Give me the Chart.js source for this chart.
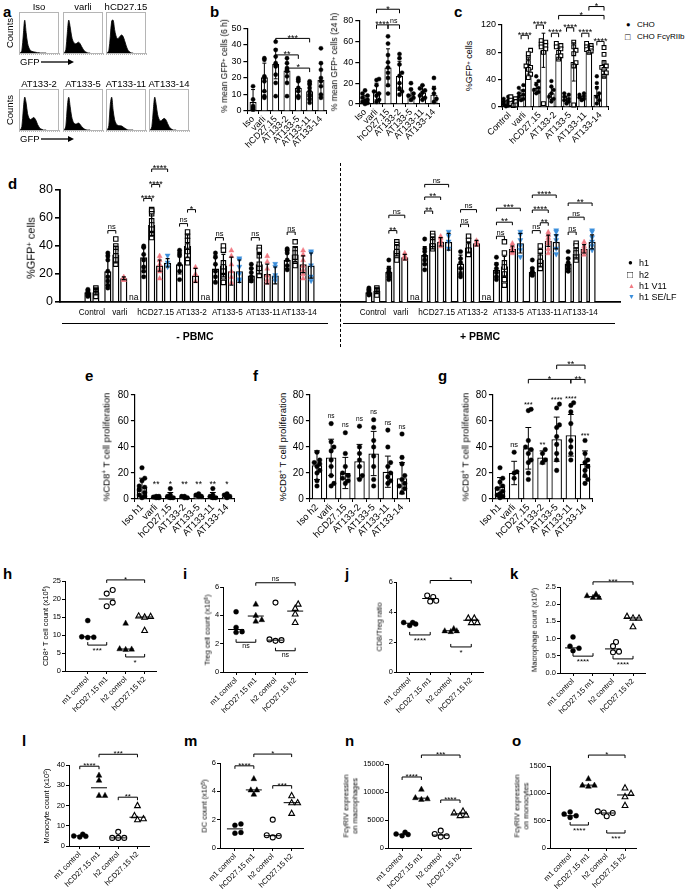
<!DOCTYPE html>
<html><head><meta charset="utf-8"><title>Figure</title>
<script src="https://cdn.jsdelivr.net/npm/chart.js@4.4.1/dist/chart.umd.min.js"></script>
<style>
html,body{margin:0;padding:0;background:#fff;}
#fig{position:relative;width:685px;height:894px;overflow:hidden;font-family:"Liberation Sans",Arial,sans-serif;color:#000;background:#fff;-webkit-font-smoothing:antialiased;}
.t{position:absolute;white-space:nowrap;line-height:1;-webkit-font-smoothing:antialiased;}
.yt{position:absolute;white-space:nowrap;line-height:1.15;transform:translate(-50%,-50%) rotate(-90deg);text-align:center;font-weight:normal;-webkit-font-smoothing:antialiased;}
sup{font-size:68%;position:relative;top:-0.4em;line-height:0;vertical-align:baseline;}
</style></head><body><div id="fig"></div>
<script>
// ================= DATA =================
// a: GFP histograms (relative counts per bin)
const histTitles = ['Iso','varli','hCD27.15','AT133-2','AT133-5','AT133-11','AT133-14'];
const histIso   = [0,1,8,55,100,62,30,15,8,5,4,3,2,1,1,0,0,0,0,0];
const histVarli = [0,1,10,60,100,80,52,36,30,28,31,33,28,20,12,6,3,1,0,0];
const histHCD   = [0,1,8,50,98,100,72,52,44,46,52,55,50,38,24,12,5,2,0,0];
const histAT2   = [0,1,10,62,100,82,50,36,32,34,38,36,28,17,9,4,2,0,0,0];
const histAT5   = [0,1,12,70,100,72,42,26,20,18,20,21,17,11,6,3,1,0,0,0];
const histAT11  = [0,1,14,78,100,60,32,20,15,13,13,12,9,6,3,1,0,0,0,0];
const histAT14  = [0,1,10,60,100,78,48,33,28,30,34,35,30,20,11,5,2,0,0,0];

// b: % mean GFP+ cells
const bCats = ['Iso','varli','hCD27.15','AT133-2','AT133-5','AT133-11','AT133-14'];
const b6Mean = [5.5,20.5,28.5,24.5,14,12,19];
const b6SD   = [7.5,8.5,9,7.5,5,4.5,10];
const b6Pts  = [[15,7,3,2,1],[32,31,21,20,18,12,9,8],[42,37,33,29,28,27,22,17,9],[32,29,26,25,24,21,17,9],[20,19,18,14,12,9,8],[18,17,16,14,12,10,9,7,5],[38,29,25,20,18,15,10,8]];
const b6Sig  = [[2,5,44,'***'],[2,4,34,'**'],[3,5,26,'*']];
const b24Mean = [4,12,35,27,9,11,9];
const b24SD   = [4,8,18,14,6,7,8];
const b24Pts  = [[13,10,8,6,4,3,2,1,0],[24,23,18,12,10,8,4,2],[65,58,47,40,35,30,25,18,10],[48,44,38,30,27,20,15,12,9],[20,14,10,8,6,4],[18,15,13,11,8,6,4],[25,15,10,5,2]];
const b24Sig  = [[1,2,76,'****'],[2,3,76,'ns'],[1,3,91,'*']];

// c: CHO vs CHO FcgRIIb
const cCats = ['Control','varli','hCD27.15','AT133-2','AT133-5','AT133-11','AT133-14'];
const cCHO    = [5,18,28,20,11,13,18];
const cCHOsd  = [4,7,8,9,5,3,12];
const cFc     = [5,60,83,78,66,84,56];
const cFcSD   = [4,12,25,8,28,5,12];
const cCHOpts = [[15,12,10,8,6,4,2,1],[32,28,24,20,18,15,12,10],[45,38,33,28,25,22,20],[38,30,25,20,15,12,8],[20,18,15,12,10,8,5],[20,18,16,14,12,10],[45,35,28,20,15,10,5]];
const cFcPts  = [[15,12,10,8,5,3,2],[83,78,72,65,60,58,55,48,43],[97,95,92,90,88,85,80,5],[93,90,88,85,80,75,70],[95,88,83,78,65,60,3],[93,90,88,86,84,82,80],[87,77,65,60,58,55,50,45]];
const cSig = [[1,0,1,1,105,'****'],[2,0,2,1,120,'****'],[3,0,3,1,108,'****'],[4,0,4,1,116,'****'],[5,0,5,1,108,'****'],[6,0,6,1,96,'****'],[3,1,6,1,134,'*'],[5,1,6,1,147,'*']];

// d: %GFP+ cells, series h1, h2, h1 V11, h1 SE/LF  (null = not tested, 'na' = not available)
const dCats = ['Control','varli','hCD27.15','AT133-2','AT133-5','AT133-11','AT133-14'];
const dSeries = ['h1','h2','h1 V11','h1 SE/LF'];
// - PBMC
const dL_h1  = [7,22,32,27,24,19,30];
const dL_h2  = [7,34,55,40,26,27,34];
const dL_v11 = [null,17,26,19,22,20,27];
const dL_se  = [null,'na',28,'na',22,19,26];
const dL_h1sd  = [2,10,7,7,9,5,6];
const dL_h2sd  = [2,6,8,8,8,7,5];
const dL_v11sd = [null,1,4,5,10,7,6];
const dL_sesd  = [null,null,3,null,8,6,9];
const dL_h1pts  = [[9,8,7,6,5,5,4],[35,33,30,22,18,15,12,10],[40,39,34,30,25,22,18],[37,35,33,27,22,16],[35,32,27,22,18,14],[27,24,21,18,16,15],[38,37,35,30,26,23]];
const dL_h2pts  = [[10,9,8,7,6,5,4],[45,40,38,36,33,30,27],[66,65,63,58,55,52,48,46],[50,47,44,40,36,30,28],[40,37,28,25,22,18,14],[39,37,33,27,24,19],[43,38,35,32,27,26]];
const dL_v11pts = [null,[18,17,16,16],[33,30,27,24,22,17],[25,20,15],[37,33,27,22,18,14],[33,29,24,19,16,14],[37,34,30,26,23,20,17]];
const dL_septs  = [null,null,[33,28,25],null,[31,30,25,20,16,15],[27,25,19,17,15],[36,35,26,18,15]];
const dL_sig = [[1,0,1,51,'ns'],[2,0,1,74,'****'],[2,1,2,84,'****'],[2,1,3,95,'****'],[3,0,1,56,'ns'],[3,1,2,66,'*'],[4,0,1,46,'ns'],[5,0,1,46,'ns'],[6,0,1,50,'ns']];
// + PBMC
const dR_h1  = [7,21.5,33.5,27.5,23,21.5,27.5];
const dR_h2  = [8,37,42,39,25.5,30,34.7];
const dR_v11 = [null,32,43,42,38,43.7,38];
const dR_se  = [null,'na',43,'na',42,43,43];
const dR_h1sd  = [2,4,6,6,5,3,4];
const dR_h2sd  = [2,4,4,4,7,5,4];
const dR_v11sd = [null,2,3,2,2,4,3];
const dR_sesd  = [null,null,6,null,7,5,5];
const dR_h1pts  = [[10,9,8,7,6,5],[30,24,22,20,18,16],[45,38,36,33,30,27,23],[36,31,28,24,20,18],[32,27,24,21,18,16],[30,24,22,21,20,19],[36,31,28,26,24,22]];
const dR_h2pts  = [[10,9,8,7,6,5],[43,41,39,36,33,30],[49,47,45,43,40,38],[47,44,40,37,34],[43,35,28,25,20,16,12],[40,36,32,29,26,24],[42,40,37,35,32,30]];
const dR_v11pts = [null,[35,33,32,31],[47,46,44,42,40],[44,42,41],[42,40,38,37,36,35],[50,48,46,44,42,38,35],[43,40,38,37,36,34]];
const dR_septs  = [null,null,[50,47,43,38],null,[50,48,44,40,37,32],[51,50,47,44,38,34],[51,50,46,43,40,37]];
const dR_sig = [[1,0,1,51,'**'],[1,0,2,62,'ns'],[2,0,1,65,'**'],[2,0,2,75,'**'],[2,0,3,84,'ns'],[3,0,1,55.6,'ns'],[3,0,2,66,'ns'],[4,0,1,47,'ns'],[4,0,2,57,'**'],[4,0,3,67,'***'],[5,0,1,51,'ns'],[5,1,2,56.6,'**'],[5,0,2,65.7,'****'],[5,0,3,76.4,'****'],[6,0,1,50,'ns'],[6,0,2,60.6,'ns'],[6,0,3,70.7,'**']];

// e, f, g: %CD8+ T cell proliferation
const eCats = ['Iso h1','varli','hCD27.15','AT133-2','AT133-5','AT133-11','AT133-14'];
const eMean = [9,1.5,2.5,1.5,2.5,2.5,2];
const eSD   = [7,0.5,2.5,0.5,1,2.5,1];
const ePts  = [[24,16,14,10,9,7,5,3,2,1],[2,1.5,1,1,2],[8,3,2,1,1],[2,2,1,1],[4,3,2,2],[8,3,2,1,1],[4,3,2,1]];
const eStars = ['','**','*','**','**','**','*'];
const eStarV = [null,10.5,10.5,10.5,10.5,10.5,10.5];
const fCats = ['Iso h2','varli','hCD27.15','AT133-2','AT133-5','AT133-11','AT133-14'];
const fMean = [26,32,20,29,35,21,16];
const fSD   = [11,14,12,13,17,12,12];
const fPts  = [[36,30,28,27,25,22,20,14,10],[58,44,40,37,30,25,18,12,10],[51,35,25,20,18,16,14,12],[56,40,35,30,25,18,15],[61,55,45,40,33,25,15,10],[53,40,28,25,20,17,14,12],[50,32,27,18,15,12,10,8,5]];
const fStars = ['','ns','ns','ns','ns','ns','ns'];
const fStarV = [null,61,54,59,64,56,53];
const gCats = ['Iso h1','varli','hCD27.15','AT133-2','AT133-5','AT133-11','AT133-14'];
const gMean = [9.5,20,39,32,46,49,27];
const gSD   = [7,9,16,5,17,16,10];
const gPts  = [[24,16,13,10,8,6,4,3,2,1],[36,21,20,16],[69,68,45,40,38,35,30,28,20,15],[38,35,30,28],[73,70,57,55,48,42,35,30,22],[74,72,67,58,45,40,35,30],[45,35,30,28,25,22,18,15,12]];
const gStars = ['','ns','***','**','****','****','***'];
const gStarV = [null,39,72,41,76,77,48];
const gSig = [[2,5,92,'*'],[5,6,92,'**'],[4,6,103,'**']];

// h - o: in vivo dot plots
const dotCats = ['m1 control','hCD27.15 m1','h2 control','hCD27.15 h2'];
const hMed = [9.5,20,6.1,15];
const hPts = [[14,9.5,9.3,9.4],[22.5,21.5,18,19],[13.3,6,6.2,6.1],[15,15.3,15.2,11.3]];
const hSig = [[1,3,25.3,'*','d'],[0,1,7.2,'***','u'],[2,3,3.9,'*','u']];
const iMed = [3.0,3.95,2.25,4.3];
const iPts = [[4.25,2.8,2.85,3.15],[4.8,4.0,3.6,3.7],[4.9,2.3,2.2,2.25],[4.8,4.5,4.1,3.5]];
const iSig = [[1,3,6.3,'ns','d'],[0,1,2.1,'ns','u'],[2,3,1.5,'ns','u']];
const jMed = [3.25,4.9,2.75,3.45];
const jPts = [[3.1,3.3,3.2,3.3],[5.1,5.0,4.7,4.75],[2.9,2.75,2.7,2.75],[3.6,3.3,3.3,3.6]];
const jSig = [[1,3,6.1,'*','d'],[0,1,2.47,'****','u'],[2,3,1.67,'*','u']];
const kMed = [0.73,2.22,0.7,1.6];
const kPts = [[1.05,0.78,0.72,0.65],[2.3,2.2,2.2,2.25],[0.9,0.78,0.62,0.6],[1.65,1.6,1.6,1.35]];
const kSig = [[1,3,2.65,'***','d'],[0,1,0.49,'****','u'],[2,3,0.41,'****','u']];
const lMed = [5,28.75,4,14.2];
const lPts = [[4.5,5.8,5,4.8],[35,32.5,25,25],[7,4,4,4],[20,15,13.5,13]];
const lSig = [[0,1,39.4,'****','d'],[1,3,45.3,'***','d'],[2,3,24.1,'**','d']];
const mMed = [1.35,4.1,0.87,3.2];
const mPts = [[1.7,1.6,1.1,1.05],[4.9,4.1,4.1,3.8],[2.0,0.9,0.85,0.75],[3.7,3.2,3.2,2.45]];
const mSig = [[0,1,5.8,'****','d'],[1,3,6.63,'*','d'],[2,3,4.4,'***','d']];
const nMed = [2450,8900,2300,6100];
const nPts = [[2800,2500,2400,2200],[10500,9000,8700,8800],[3100,2500,2100,2000],[6600,6300,5900,5800]];
const nSig = [[0,1,12680,'****','d'],[1,3,16600,'***','d'],[2,3,8570,'****','d']];
const oMed = [590,1150,640,970];
const oPts = [[660,620,590,560],[1270,1150,1130,1150],[670,650,640,580],[1100,1000,940,780]];
const oSig = [[1,3,1700,'*','d'],[0,1,420,'****','u'],[2,3,274,'***','u']];

// ================= SETUP =================
const FF = '"Liberation Sans", Arial, sans-serif';
Chart.defaults.font.family = FF;
Chart.defaults.color = '#000';
Chart.defaults.animation = false;
Chart.defaults.responsive = false;
Chart.defaults.maintainAspectRatio = false;
Chart.defaults.plugins.legend.display = false;
Chart.defaults.plugins.tooltip.enabled = false;
Chart.defaults.events = [];
const fig = document.getElementById('fig');
const PINK = '#F17A83', BLUE = '#3B8EDB';

function mk(box, plot, cfg, noY) {
  const c = document.createElement('canvas');
  c.width = box.w; c.height = box.h;
  c.style.cssText = `position:absolute;left:${box.x}px;top:${box.y}px;width:${box.w}px;height:${box.h}px;`;
  fig.appendChild(c);
  const yW = plot.x0 - box.x, xH = box.y + box.h - plot.y1;
  cfg.options.devicePixelRatio = 1;
  cfg.options.layout = { padding: { left: noY ? yW : 0, top: plot.y0 - box.y, right: box.x + box.w - plot.x1, bottom: 0 } };
  cfg.options.scales.x.afterFit = s => { s.height = xH; };
  if (!noY) cfg.options.scales.y.afterFit = s => { s.width = yW; };
  return new Chart(c, cfg);
}
function txt(s, x, y, size, o) {
  o = o || {};
  const d = document.createElement('div'); d.className = 't'; d.innerHTML = s;
  d.style.left = x + 'px'; d.style.top = y + 'px'; d.style.fontSize = size + 'px';
  if (o.bold) d.style.fontWeight = 'bold';
  if (o.center) d.style.transform = 'translateX(-50%)';
  if (o.color) d.style.color = o.color;
  fig.appendChild(d); return d;
}
function ytitle(s, cx, cy, size) {
  const d = document.createElement('div'); d.className = 'yt'; d.innerHTML = s;
  d.style.left = cx + 'px'; d.style.top = cy + 'px'; d.style.fontSize = size + 'px';
  fig.appendChild(d);
}
function drawShape(ctx, sh, x, y, r, fill, col) {
  ctx.beginPath();
  if (sh === 'circle') ctx.arc(x, y, r, 0, 2 * Math.PI);
  else if (sh === 'square') ctx.rect(x - r, y - r, 2 * r, 2 * r);
  else if (sh === 'tri') { ctx.moveTo(x, y - 1.25 * r); ctx.lineTo(x + 1.15 * r, y + 0.85 * r); ctx.lineTo(x - 1.15 * r, y + 0.85 * r); ctx.closePath(); }
  else { ctx.moveTo(x, y + 1.25 * r); ctx.lineTo(x + 1.15 * r, y - 0.85 * r); ctx.lineTo(x - 1.15 * r, y - 0.85 * r); ctx.closePath(); }
  ctx.fillStyle = fill ? col : '#fff'; ctx.fill();
  ctx.lineWidth = fill ? 0.4 : 1.1; ctx.strokeStyle = col; ctx.stroke();
}
function swarm(xc, ys, r, maxOff) {
  const step = r * 1.2, placed = [], xs = [];
  const order = ys.map((_, i) => i).sort((a, b) => ys[b] - ys[a]);
  const cands = [0];
  for (let k = 1; k * step <= maxOff + 0.01; k++) cands.push(k * step, -k * step);
  for (const i of order) {
    let best = 0, bestD = -1;
    for (const c of cands) {
      const x = xc + c; let d = Infinity;
      for (const p of placed) d = Math.min(d, Math.hypot(p[0] - x, p[1] - ys[i]));
      if (d >= 2 * r * 0.95) { best = c; break; }
      if (d > bestD) { bestD = d; best = c; }
    }
    xs[i] = xc + best; placed.push([xs[i], ys[i]]);
  }
  return xs;
}
function errBar(ctx, x, ylo, yhi, cap, lw) {
  ctx.beginPath(); ctx.lineWidth = lw; ctx.strokeStyle = '#000';
  ctx.moveTo(x, ylo); ctx.lineTo(x, yhi);
  ctx.moveTo(x - cap, yhi); ctx.lineTo(x + cap, yhi);
  ctx.moveTo(x - cap, ylo); ctx.lineTo(x + cap, ylo);
  ctx.stroke();
}
function sigText(ctx, t, x, y, size, below) {
  ctx.font = `${size}px ${FF}`; ctx.fillStyle = '#000'; ctx.textAlign = 'center'; ctx.textBaseline = 'alphabetic';
  const star = t[0] === '*';
  let by;
  if (below) by = y + 2 + (star ? 0.72 : 0.6) * size;
  else by = y - 1.5 + (star ? 0.42 * size : 0);
  ctx.fillText(t, x, by);
}
function bracket(ctx, x1, x2, y, t, size, up, tick) {
  tick = tick || 4;
  const dy = up ? -tick : tick;
  ctx.beginPath(); ctx.lineWidth = 1; ctx.strokeStyle = '#000';
  ctx.moveTo(x1, y + dy); ctx.lineTo(x1, y); ctx.lineTo(x2, y); ctx.lineTo(x2, y + dy); ctx.stroke();
  sigText(ctx, t, (x1 + x2) / 2, y, size, up);
}

// ---------- generic bar chart ----------
function barExtras(chart, sp) {
  const ctx = chart.ctx, ys = chart.scales.y;
  ctx.save();
  sp.series.forEach((s, di) => {
    const meta = chart.getDatasetMeta(di);
    s.mean.forEach((m, i) => {
      if (m == null || !s.pts || !s.pts[i]) return;
      const el = meta.data[i];
      const yy = s.pts[i].map(v => ys.getPixelForValue(v));
      const xx = swarm(el.x, yy, s.r, el.width * 0.5 - 1);
      yy.forEach((py, k) => drawShape(ctx, s.shape, xx[k], py, s.r, s.fill, s.color));
    });
  });
  sp.series.forEach((s, di) => {
    const meta = chart.getDatasetMeta(di);
    s.mean.forEach((m, i) => {
      if (m == null || !s.sd || s.sd[i] == null) return;
      const el = meta.data[i];
      errBar(ctx, el.x, ys.getPixelForValue(Math.max(0, m - s.sd[i])), ys.getPixelForValue(m + s.sd[i]), el.width * 0.28, sp.elw || 1);
    });
  });
  (sp.brackets || []).forEach(b => {
    const x1 = chart.getDatasetMeta(b.a[1]).data[b.a[0]].x, x2 = chart.getDatasetMeta(b.b[1]).data[b.b[0]].x;
    bracket(ctx, x1, x2, ys.getPixelForValue(b.v), b.t, b.size || 9, false, b.tick || 4);
  });
  (sp.texts || []).forEach(t => {
    const x = chart.getDatasetMeta(0).data[t.i].x;
    sigText(ctx, t.t, x, ys.getPixelForValue(t.v), t.size, false);
  });
  ctx.restore();
}
function barChart(sp) {
  const cfg = {
    type: 'bar',
    data: { labels: sp.cats, datasets: sp.series.map(s => ({ data: s.mean, backgroundColor: '#fff', borderColor: '#000', borderWidth: sp.bw || 1.2, barPercentage: sp.barPct, categoryPercentage: sp.catPct })) },
    options: {
      scales: {
        x: { ticks: { font: { size: sp.xFont }, autoSkip: false, minRotation: 45, maxRotation: 45, padding: 0 }, grid: { drawOnChartArea: false, drawTicks: true, tickLength: 3, color: '#000', lineWidth: 1 }, border: { color: '#000', width: sp.aw || 1.2 } },
        y: { min: 0, max: sp.ymax, ticks: { stepSize: sp.step, font: { size: sp.yFont }, padding: 2 }, grid: { drawOnChartArea: false, tickLength: 4, color: '#000', lineWidth: 1.2 }, border: { color: '#000', width: sp.aw || 1.2 } }
      }
    },
    plugins: [{ id: 'barEx', afterDatasetsDraw(chart) { barExtras(chart, sp); } }]
  };
  return mk(sp.box, sp.plot, cfg);
}

// ---------- d chart (slot layout on linear scale) ----------
function dChart(box, plot, means, sds, pts, sig, noY) {
  const nG = dCats.length, slotX = [], centers = [];
  let pos = 0.5;
  for (let g = 0; g < nG; g++) {
    slotX.push([]);
    const present = [0, 1, 2, 3].filter(s => means[s][g] !== null);
    present.forEach((s, k) => { slotX[g][s] = pos + k + 0.5; });
    centers.push(pos + present.length / 2);
    pos += present.length + 0.5;
  }
  const total = pos;
  const shapes = [['circle', true, '#000'], ['square', false, '#000'], ['tri', true, PINK], ['triDown', true, BLUE]];
  const datasets = means.map((arr, s) => ({
    data: arr.map((v, g) => typeof v === 'number' ? { x: slotX[g][s], y: v } : null).filter(Boolean),
    backgroundColor: '#fff', borderColor: '#000', borderWidth: 1.5, grouped: false, barPercentage: 0.9, categoryPercentage: 1
  }));
  const cfg = {
    type: 'bar',
    data: { datasets },
    options: {
      scales: {
        x: { type: 'linear', min: 0, max: total, afterBuildTicks: s => { s.ticks = centers.map(v => ({ value: v })); },
             ticks: { callback: (v, i) => dCats[i], autoSkip: false, minRotation: 0, maxRotation: 0, font: { size: 8.2 }, padding: 6 },
             grid: { drawOnChartArea: false, drawTicks: false }, border: { color: '#000', width: 1.8 } },
        y: { display: !noY, min: 0, max: 80, ticks: { stepSize: 20, font: { size: 12.5 }, padding: 2 },
             grid: { drawOnChartArea: false, tickLength: 5, color: '#000', lineWidth: 1.6 }, border: { color: '#000', width: 1.8 } }
      }
    },
    plugins: [{ id: 'dEx', afterDatasetsDraw(chart) {
      const ctx = chart.ctx, xs = chart.scales.x, ys = chart.scales.y;
      const bw = chart.getDatasetMeta(0).data[0].width;
      ctx.save();
      for (let s = 0; s < 4; s++) for (let g = 0; g < nG; g++) {
        const v = means[s][g]; if (v === null) continue;
        const x = xs.getPixelForValue(slotX[g][s]);
        if (v === 'na') { sigText(ctx, 'na', x + 2, ys.getPixelForValue(0) - 1, 8.5, false); continue; }
        if (pts[s][g]) {
          const yy = pts[s][g].map(p => ys.getPixelForValue(p));
          const xx = swarm(x, yy, 2.2, bw * 0.5 - 1);
          yy.forEach((py, k) => drawShape(ctx, shapes[s][0], xx[k], py, 2.2, shapes[s][1], shapes[s][2]));
        }
      }
      for (let s = 0; s < 4; s++) for (let g = 0; g < nG; g++) {
        const v = means[s][g]; if (typeof v !== 'number' || sds[s][g] == null) continue;
        const x = xs.getPixelForValue(slotX[g][s]);
        errBar(ctx, x, ys.getPixelForValue(Math.max(0, v - sds[s][g])), ys.getPixelForValue(v + sds[s][g]), bw * 0.28, 1.2);
      }
      sig.forEach(([g, s1, s2, v, t]) => bracket(ctx, xs.getPixelForValue(slotX[g][s1]), xs.getPixelForValue(slotX[g][s2]), ys.getPixelForValue(v), t, t === 'ns' ? 7.5 : 9, false, 3));
      ctx.restore();
    } }]
  };
  return mk(box, plot, cfg, noY);
}

// ---------- dot plots ----------
function dotChart(sp) {
  const cfg = {
    type: 'scatter',
    data: { datasets: [{ data: [] }] },
    options: {
      scales: {
        x: { type: 'linear', min: sp.xmin, max: 3.6, afterBuildTicks: s => { s.ticks = dotCats.map((_, i) => ({ value: i })); },
             ticks: { callback: (v, i) => dotCats[i], autoSkip: false, minRotation: 45, maxRotation: 45, font: { size: 7.5 }, padding: 1 },
             grid: { drawOnChartArea: false, tickLength: 3, color: '#000' }, border: { color: '#000', width: 1 } },
        y: { min: 0, max: sp.ymax, ticks: { stepSize: sp.step, font: { size: 7.5 }, padding: 1, callback: sp.fmt || (v => String(v)) },
             grid: { drawOnChartArea: false, tickLength: 3, color: '#000' }, border: { color: '#000', width: 1 } }
      }
    },
    plugins: [{ id: 'dotEx', afterDatasetsDraw(chart) {
      const ctx = chart.ctx, xs = chart.scales.x, ys = chart.scales.y;
      ctx.save();
      sp.pts.forEach((arr, i) => {
        const xc = xs.getPixelForValue(i), st = sp.styles[i];
        const r = 2.5;
        const yy = arr.map(v => ys.getPixelForValue(v));
        const xx = swarm(xc, yy, r, 9);
        yy.forEach((py, k) => drawShape(ctx, st[0], xx[k], py, r, st[1], '#000'));
        const my = ys.getPixelForValue(sp.med[i]);
        ctx.beginPath(); ctx.moveTo(xc - 8, my); ctx.lineTo(xc + 8, my); ctx.lineWidth = 1; ctx.strokeStyle = '#000'; ctx.stroke();
      });
      sp.sig.forEach(([a, b, v, t, dir]) => bracket(ctx, xs.getPixelForValue(a), xs.getPixelForValue(b), ys.getPixelForValue(v), t, t === 'ns' ? 7 : 8, dir === 'u', 3));
      ctx.restore();
    } }]
  };
  return mk(sp.box, sp.plot, cfg);
}

// ---------- histograms ----------
function histChart(x, y, data) {
  const cfg = {
    type: 'line',
    data: { labels: data.map((_, i) => i), datasets: [{ data, fill: 'origin', backgroundColor: '#000', borderColor: '#000', borderWidth: 0.8, pointRadius: 0, tension: 0.35 }] },
    options: {
      scales: {
        x: { type: 'linear', min: 0, max: 28, ticks: { display: false, stepSize: 1.4 }, grid: { drawOnChartArea: false, drawTicks: true, tickLength: 2, color: '#888', lineWidth: 0.6 }, border: { color: '#aaa', width: 1 } },
        y: { display: false, min: 0, max: 125 }
      }
    },
    plugins: [{ id: 'frame', afterDraw(chart) {
      const a = chart.chartArea, ctx = chart.ctx;
      ctx.save(); ctx.strokeStyle = '#b5b5b5'; ctx.lineWidth = 1; ctx.strokeRect(a.left + 0.5, a.top + 0.5, a.right - a.left - 1, a.bottom - a.top); ctx.restore();
    } }]
  };
  return mk({ x: x - 2, y: y - 2, w: 44, h: 48 }, { x0: x, y0: y, x1: x + 40, y1: y + 41 }, cfg, true);
}

// ================= BUILD =================
// panel letters
[['a',3,4],['b',210,4],['c',454,4],['d',8,176],['e',85,368],['f',253,368],['g',438,368],['h',3,566],['i',183,566],['j',345,566],['k',510,566],['l',22,733],['m',184,733],['n',345,733],['o',512,733]]
  .forEach(([l, x, y]) => txt(l, x, y, 15, { bold: true }));

// a
const histData = [histIso, histVarli, histHCD, histAT2, histAT5, histAT11, histAT14];
const histPos = [[19,12],[63,12],[106,12],[19,89],[63,89],[106,89],[149,89]];
histData.forEach((d, i) => {
  histChart(histPos[i][0], histPos[i][1], d);
  txt(histTitles[i], histPos[i][0] + 20, histPos[i][1] - 10, 9.5, { center: true });
});
ytitle('Counts', 10, 33, 9.5);
ytitle('Counts', 10, 110, 9.5);
function gfp(x, y) {
  txt('GFP', x, y, 9.5);
  fig.insertAdjacentHTML('beforeend', `<svg width="34" height="6" style="position:absolute;left:${x + 21}px;top:${y + 2}px"><line x1="0" y1="3" x2="28" y2="3" stroke="#000" stroke-width="1.3"/><path d="M27 0 L33 3 L27 6 Z" fill="#000"/></svg>`);
}
gfp(20, 57); gfp(20, 134);

// b
barChart({ box: { x: 230, y: 0, w: 102, h: 160 }, plot: { x0: 247.4, y0: 28.5, x1: 326.6, y1: 111 },
  cats: bCats, ymax: 50, step: 10, yFont: 9, xFont: 9, barPct: 0.62, catPct: 1,
  series: [{ mean: b6Mean, sd: b6SD, pts: b6Pts, shape: 'circle', fill: true, color: '#000', r: 2.1 }],
  brackets: b6Sig.map(([a, b, v, t]) => ({ a: [a, 0], b: [b, 0], v, t, size: 9 })) });
ytitle('% mean GFP<sup>+</sup> cells (6 h)', 225, 66, 8.5);
barChart({ box: { x: 342, y: 0, w: 103, h: 160 }, plot: { x0: 359.3, y0: 20.7, x1: 439.7, y1: 104 },
  cats: bCats, ymax: 80, step: 20, yFont: 9, xFont: 9, barPct: 0.62, catPct: 1,
  series: [{ mean: b24Mean, sd: b24SD, pts: b24Pts, shape: 'circle', fill: true, color: '#000', r: 2.1 }],
  brackets: b24Sig.map(([a, b, v, t]) => ({ a: [a, 0], b: [b, 0], v, t, size: t === 'ns' ? 7 : 9 })) });
ytitle('% mean GFP<sup>+</sup> cells (24 h)', 335, 62, 8.5);

// c
barChart({ box: { x: 478, y: 0, w: 137, h: 160 }, plot: { x0: 502, y0: 25, x1: 608, y1: 107 },
  cats: cCats, ymax: 120, step: 20, yFont: 9, xFont: 9, barPct: 0.92, catPct: 0.95,
  series: [{ mean: cCHO, sd: cCHOsd, pts: cCHOpts, shape: 'circle', fill: true, color: '#000', r: 1.9 },
           { mean: cFc, sd: cFcSD, pts: cFcPts, shape: 'square', fill: false, color: '#000', r: 1.9 }],
  brackets: cSig.map(([g1, s1, g2, s2, v, t]) => ({ a: [g1, s1], b: [g2, s2], v, t, size: 9, tick: 4 })) });
ytitle('%GFP<sup>+</sup> cells', 469, 66, 9);
txt('●', 626, 21, 7.5); txt('CHO', 637, 21, 8);
txt('□', 625, 33, 9); txt('CHO Fc&gamma;RIIb', 637, 33, 8);

// d
dChart({ x: 35, y: 152, w: 306, h: 178 }, { x0: 60, y0: 190, x1: 339, y1: 302 },
  [dL_h1, dL_h2, dL_v11, dL_se], [dL_h1sd, dL_h2sd, dL_v11sd, dL_sesd], [dL_h1pts, dL_h2pts, dL_v11pts, dL_septs], dL_sig, false);
dChart({ x: 330, y: 152, w: 295, h: 178 }, { x0: 341, y0: 190, x1: 620, y1: 302 },
  [dR_h1, dR_h2, dR_v11, dR_se], [dR_h1sd, dR_h2sd, dR_v11sd, dR_sesd], [dR_h1pts, dR_h2pts, dR_v11pts, dR_septs], dR_sig, true);
ytitle('%GFP<sup>+</sup> cells', 31, 248, 11);
fig.insertAdjacentHTML('beforeend', '<div style="position:absolute;left:340px;top:163px;height:184px;border-left:1.6px dashed #000"></div>');
fig.insertAdjacentHTML('beforeend', '<div style="position:absolute;left:62px;top:323px;width:266px;border-top:1.3px solid #000"></div>');
fig.insertAdjacentHTML('beforeend', '<div style="position:absolute;left:343px;top:323px;width:272px;border-top:1.3px solid #000"></div>');
txt('- PBMC', 195, 331, 10.5, { bold: true, center: true });
txt('+ PBMC', 480, 331, 10.5, { bold: true, center: true });
txt('●', 628, 259, 8); txt(dSeries[0], 639, 259, 9);
txt('□', 627, 270, 10); txt(dSeries[1], 639, 271, 9);
txt('▲', 628, 282, 7, { color: PINK }); txt(dSeries[2], 639, 282, 9);
txt('▼', 628, 293, 7, { color: BLUE }); txt(dSeries[3], 639, 293, 9);

// e, f, g
const efgTexts = (stars, vals, size) => stars.map((t, i) => ({ i, t, v: vals[i], size })).filter(o => o.t);
barChart({ box: { x: 112, y: 380, w: 128, h: 170 }, plot: { x0: 134.9, y0: 395, x1: 234.1, y1: 499 },
  cats: eCats, ymax: 80, step: 20, yFont: 10, xFont: 9.5, barPct: 0.74, catPct: 1, bw: 1.3,
  series: [{ mean: eMean, sd: eSD, pts: ePts, shape: 'circle', fill: true, color: '#000', r: 2.3 }],
  texts: efgTexts(eStars, eStarV, 8.5) });
ytitle('%CD8<sup>+</sup> T cell proliferation', 107, 447, 9.5);
barChart({ box: { x: 290, y: 380, w: 125, h: 170 }, plot: { x0: 309.9, y0: 395, x1: 409.1, y1: 499 },
  cats: fCats, ymax: 80, step: 20, yFont: 10, xFont: 9.5, barPct: 0.74, catPct: 1, bw: 1.3,
  series: [{ mean: fMean, sd: fSD, pts: fPts, shape: 'circle', fill: true, color: '#000', r: 2.3 }],
  texts: efgTexts(fStars, fStarV, 6.5) });
ytitle('%CD8<sup>+</sup> T cell proliferation', 283, 447, 9.5);
barChart({ box: { x: 470, y: 350, w: 130, h: 200 }, plot: { x0: 492.9, y0: 395, x1: 592.1, y1: 499 },
  cats: gCats, ymax: 80, step: 20, yFont: 10, xFont: 9.5, barPct: 0.74, catPct: 1, bw: 1.3,
  series: [{ mean: gMean, sd: gSD, pts: gPts, shape: 'circle', fill: true, color: '#000', r: 2.3 }],
  texts: efgTexts(gStars, gStarV, 7.5),
  brackets: gSig.map(([a, b, v, t]) => ({ a: [a, 0], b: [b, 0], v, t, size: 9 })) });
ytitle('%CD8<sup>+</sup> T cell proliferation', 466, 447, 9.5);

// h - o
const ST1 = [['circle', true], ['circle', false], ['tri', true], ['tri', false]];
const ST2 = [['circle', true], ['tri', true], ['circle', false], ['tri', false]];
dotChart({ box: { x: 50, y: 560, w: 112, h: 165 }, plot: { x0: 65, y0: 581, x1: 156, y1: 671 }, xmin: -1.2, ymax: 25, step: 5, pts: hPts, med: hMed, sig: hSig, styles: ST1 });
ytitle('CD8<sup>+</sup> T cell count (x10<sup>6</sup>)', 46, 626, 7.5);
dotChart({ box: { x: 208, y: 560, w: 104, h: 165 }, plot: { x0: 223, y0: 587, x1: 307, y1: 672 }, xmin: -0.66, ymax: 6, step: 2, pts: iPts, med: iMed, sig: iSig, styles: ST2 });
ytitle('Treg cell count (x10<sup>6</sup>)', 208, 630, 7.5);
dotChart({ box: { x: 382, y: 560, w: 106, h: 165 }, plot: { x0: 395, y0: 582, x1: 483.6, y1: 672 }, xmin: -0.62, ymax: 6, step: 2, pts: jPts, med: jMed, sig: jSig, styles: ST1 });
ytitle('CD8/Treg ratio', 380, 627, 7.5);
dotChart({ box: { x: 538, y: 560, w: 112, h: 165 }, plot: { x0: 560, y0: 587, x1: 645, y1: 673 }, xmin: -0.65, ymax: 2.5, step: 0.5, fmt: v => v.toFixed(1), pts: kPts, med: kMed, sig: kSig, styles: ST2 });
ytitle('Macrophage count (x10<sup>6</sup>)', 535, 630, 7.5);
dotChart({ box: { x: 52, y: 730, w: 102, h: 164 }, plot: { x0: 67, y0: 765, x1: 149, y1: 846 }, xmin: -0.56, ymax: 40, step: 10, pts: lPts, med: lMed, sig: lSig, styles: ST2 });
ytitle('Monocyte count (x10<sup>5</sup>)', 47, 806, 7.5);
dotChart({ box: { x: 205, y: 730, w: 102, h: 164 }, plot: { x0: 220, y0: 763, x1: 303, y1: 848 }, xmin: -0.79, ymax: 6, step: 2, pts: mPts, med: mMed, sig: mSig, styles: ST2 });
ytitle('DC count (x10<sup>5</sup>)', 205, 806, 7.5);
dotChart({ box: { x: 358, y: 730, w: 118, h: 164 }, plot: { x0: 388, y0: 764, x1: 471.6, y1: 848 }, xmin: -0.73, ymax: 15000, step: 5000, pts: nPts, med: nMed, sig: nSig, styles: ST2 });
ytitle('Fc&gamma;RIV expression<br>on macrophages', 351, 806, 7.5);
dotChart({ box: { x: 528, y: 730, w: 112, h: 164 }, plot: { x0: 550, y0: 766, x1: 636, y1: 848 }, xmin: -1.1, ymax: 1500, step: 500, pts: oPts, med: oMed, sig: oSig, styles: ST2 });
ytitle('Fc&gamma;RIV expression<br>on monocytes', 522, 806, 7.5);
</script></body></html>
